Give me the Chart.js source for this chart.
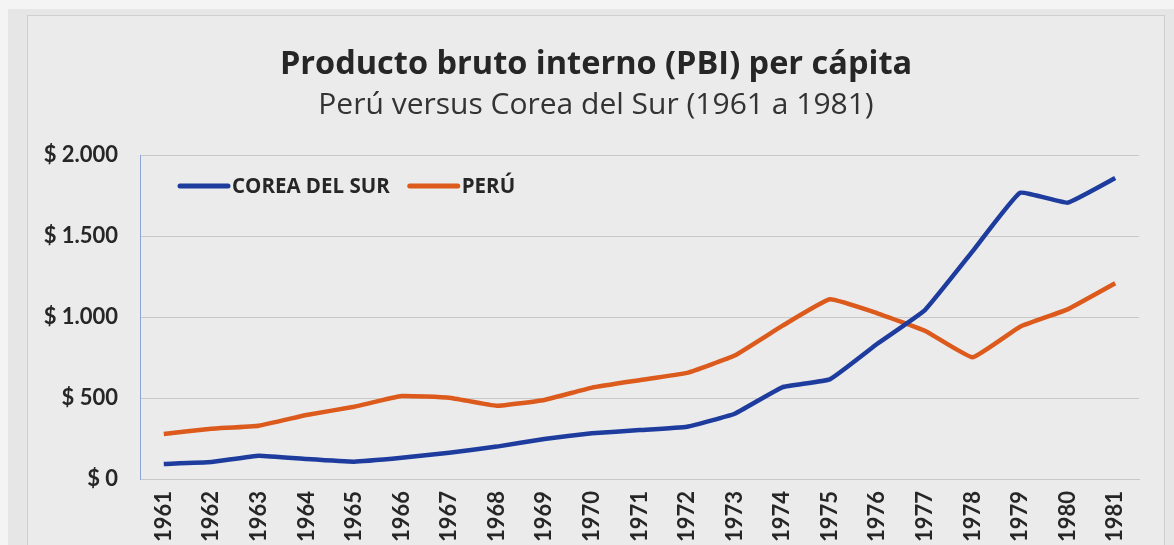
<!DOCTYPE html>
<html>
<head>
<meta charset="utf-8">
<script src="https://cdn.jsdelivr.net/npm/chart.js@4.4.1/dist/chart.umd.min.js"></script>
<style>
    html, body { margin: 0; padding: 0; width: 1174px; height: 545px; overflow: hidden; background: #f4f4f4; }
    #fondo { position: absolute; left: 8px; top: 9px; width: 1166px; height: 560px; background: #e6e6e6; }
    #marco { position: absolute; left: 27px; top: 15px; width: 1136px; height: 560px; border: 1px solid #cfcfcf; background: #ebebeb; }
    canvas { position: absolute; left: 0; top: 0; }
</style>
</head>
<body>
<div id="fondo"></div>
<div id="marco"><canvas id="chartPbi" width="1136" height="540"></canvas></div>
<script>
const anios = ['1961','1962','1963','1964','1965','1966','1967','1968','1969','1970','1971',
    '1972','1973','1974','1975','1976','1977','1978','1979','1980','1981'];
const corea = [93, 105, 144, 123, 107, 131, 162, 200, 247, 282, 302, 323, 403, 566, 615, 835, 1043, 1405, 1767, 1706, 1858];
const peru = [278, 310, 329, 395, 446, 512, 502, 452, 488, 564, 610, 655, 762, 945, 1109, 1023, 915, 751, 940, 1047, 1208];
const etiquetasY = ['$ 0', '$ 500', '$ 1.000', '$ 1.500', '$ 2.000'];

const fuente = 'Lato, "Open Sans", sans-serif';
const fuenteTitulo = '"Open Sans", Lato, sans-serif';
const azul = '#1d3c9e';
const naranja = '#db5a1c';

// leyenda dibujada dentro del area del grafico, como en Excel
const leyendaInterna = {
    id: 'leyendaInterna',
    afterDatasetsDraw(chart) {
        const ctx = chart.ctx;
        const area = chart.chartArea;
        let x = area.left + 40;
        const y = area.top + 31;
        ctx.save();
        ctx.font = 'bold 20.5px ' + fuenteTitulo;
        ctx.textBaseline = 'middle';
        chart.data.datasets.forEach(ds => {
            ctx.strokeStyle = ds.borderColor;
            ctx.lineWidth = 5;
            ctx.lineCap = 'round';
            ctx.beginPath();
            ctx.moveTo(x, y);
            ctx.lineTo(x + 48, y);
            ctx.stroke();
            ctx.fillStyle = '#262626';
            ctx.fillText(ds.label, x + 52, y + 1);
            x += 52 + ctx.measureText(ds.label).width + 20;
        });
        ctx.restore();
    }
};

const ctx = document.getElementById('chartPbi').getContext('2d');

const chartPbi = new Chart(ctx, {
    type: 'line',
    data: {
        labels: anios,
        datasets: [{
            label: 'COREA DEL SUR',
            data: corea,
            borderColor: azul,
            backgroundColor: azul,
            borderWidth: 4.5,
            pointRadius: 0,
            tension: 0.1
        }, {
            label: 'PERÚ',
            data: peru,
            borderColor: naranja,
            backgroundColor: naranja,
            borderWidth: 4.5,
            pointRadius: 0,
            tension: 0.1
        }]
    },
    options: {
        responsive: false,
        animation: false,
        plugins: {
            legend: { display: false },
            tooltip: { enabled: false },
            title: {
                display: true,
                text: 'Producto bruto interno (PBI) per cápita',
                color: '#262626',
                font: { family: fuenteTitulo, size: 32.5, weight: 'bold' },
                padding: { top: 29, bottom: 0 }
            },
            subtitle: {
                display: true,
                text: 'Perú versus Corea del Sur (1961 a 1981)',
                color: '#333333',
                font: { family: fuenteTitulo, size: 30, weight: 'normal' },
                padding: { top: 3, bottom: 32 }
            }
        },
        scales: {
            x: {
                offset: true,
                grid: { display: false, drawTicks: false },
                border: { color: '#c8c8c8', width: 1 },
                ticks: {
                    color: '#262626',
                    font: { family: fuente, size: 22, weight: 'bold' },
                    minRotation: 90,
                    maxRotation: 90,
                    padding: 12,
                    autoSkip: false
                },
                afterFit(scale) { scale.height = 77; }
            },
            y: {
                min: 0,
                max: 2000,
                grid: { color: '#c8c8c8', lineWidth: 1, drawTicks: false },
                border: { color: '#8ea3d6', width: 1 },
                ticks: {
                    stepSize: 500,
                    color: '#262626',
                    font: { family: fuente, size: 22, weight: 'bold' },
                    padding: 22,
                    callback: (valor, i) => etiquetasY[i]
                },
                afterFit(scale) { scale.width = 112; }
            },
            // eje vacio a la derecha solo para dejar el margen sin mover el titulo
            yMargen: {
                position: 'right',
                min: 0,
                max: 1,
                grid: { display: false, drawTicks: false },
                border: { display: false },
                ticks: { display: false },
                afterFit(scale) { scale.width = 25; }
            }
        }
    },
    plugins: [leyendaInterna]
});
</script>
</body>
</html>
